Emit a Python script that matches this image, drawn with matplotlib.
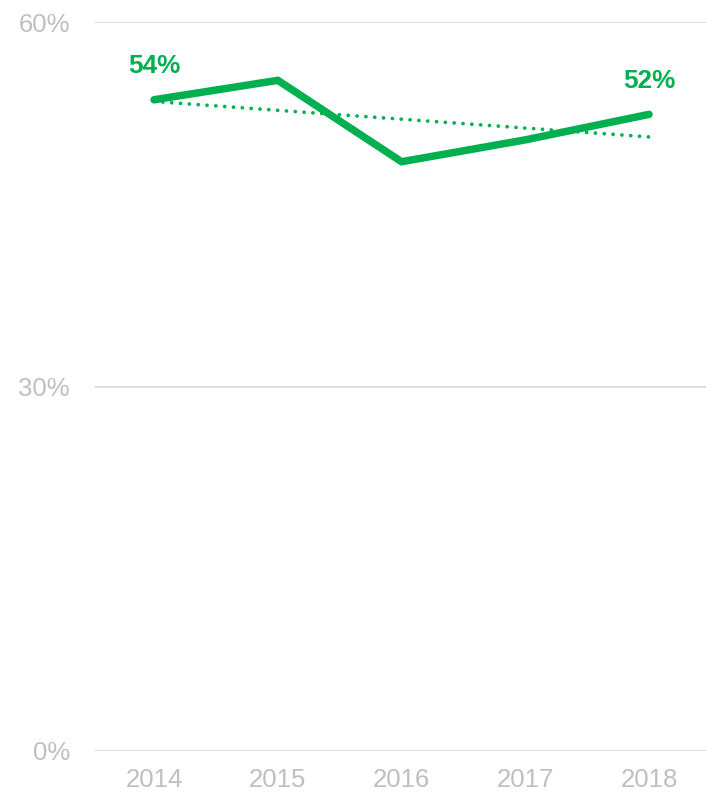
import numpy as np
import matplotlib
matplotlib.use("Agg")
import matplotlib.pyplot as plt

plt.rcParams['font.family'] = ['Liberation Sans', 'DejaVu Sans']

years = [2014, 2015, 2016, 2017, 2018]
share = [53.6, 55.2, 48.5, 50.3, 52.4]
y_ticks = [0, 30, 60]
y_tick_labels = ["0%", "30%", "60%"]

GREEN = "#00b050"
GRAY_TEXT = "#bfbfbf"
GRID = "#d9d9d9"

fig = plt.figure(figsize=(7.06, 7.95), dpi=100)
ax = fig.add_axes([95 / 706, 44 / 795, 611 / 706, 729 / 795])

# Main series
ax.plot(years, share, color=GREEN, lw=5.4, solid_capstyle="round",
        solid_joinstyle="miter", zorder=3)

# Linear trend line
coef = np.polyfit(years, share, 1)
trend = np.polyval(coef, years)
ax.plot(years, trend, color=GREEN, lw=2.7, linestyle=(0, (0.01, 2.35)),
        dash_capstyle="round", zorder=2)

# End-point labels
for i in (0, len(years) - 1):
    ax.annotate(f"{share[i]:.0f}%", (years[i], share[i]),
                xytext=(0, 24), textcoords="offset points",
                ha="center", va="center", color=GREEN,
                fontsize=18.8, fontweight="bold")

ax.set_xlim(2013.523, 2018.46)
ax.set_ylim(0, 60)
ax.set_xticks(years)
ax.set_xticklabels([str(y) for y in years])
ax.set_yticks(y_ticks)
ax.set_yticklabels(y_tick_labels)
ax.tick_params(axis="both", length=0, labelsize=18.5, labelcolor=GRAY_TEXT)
ax.tick_params(axis="y", pad=18)
ax.tick_params(axis="x", pad=12)

ax.grid(axis="y", color=GRID, lw=1.3)
ax.set_axisbelow(True)
for s in ax.spines.values():
    s.set_visible(False)

fig.savefig("out.png", dpi=100)
